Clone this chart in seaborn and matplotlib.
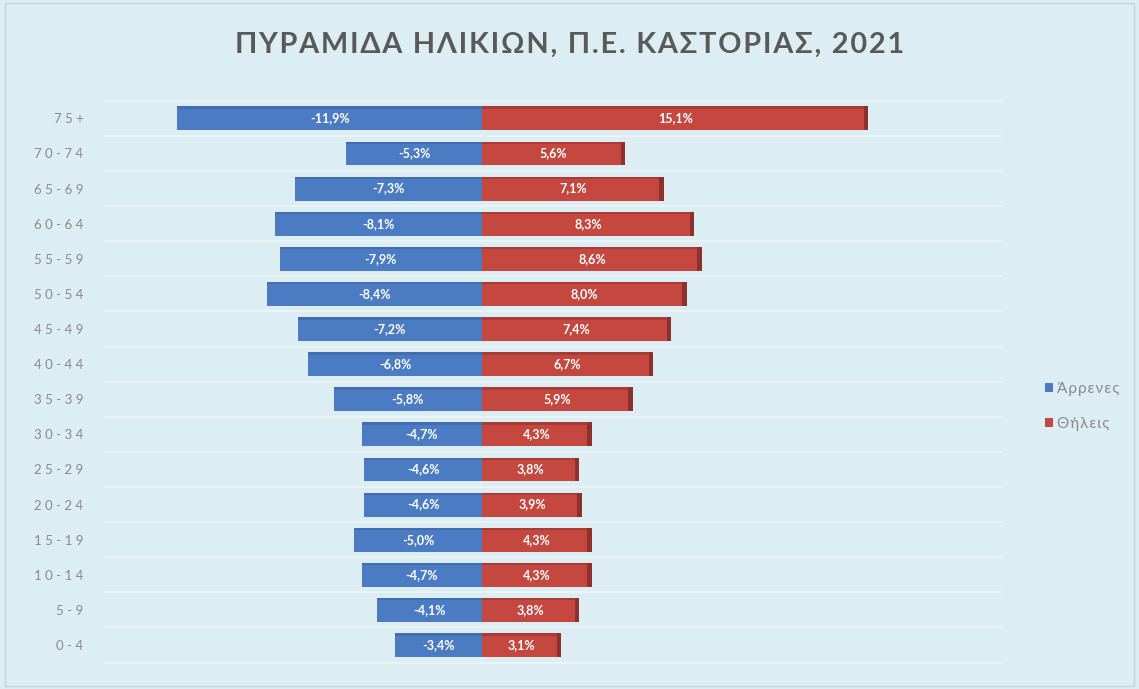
import matplotlib
matplotlib.use("Agg")
import matplotlib.pyplot as plt
import seaborn as sns
import pandas as pd

ages = ["75+", "70-74", "65-69", "60-64", "55-59", "50-54", "45-49", "40-44",
        "35-39", "30-34", "25-29", "20-24", "15-19", "10-14", "5-9", "0-4"]
males = [-11.9, -5.3, -7.3, -8.1, -7.9, -8.4, -7.2, -6.8,
         -5.8, -4.7, -4.6, -4.6, -5.0, -4.7, -4.1, -3.4]
females = [15.1, 5.6, 7.1, 8.3, 8.6, 8.0, 7.4, 6.7,
           5.9, 4.3, 3.8, 3.9, 4.3, 4.3, 3.8, 3.1]
series = ["Άρρενες", "Θήλεις"]
colors = ["#4a7bc3", "#c4483f"]
title = "ΠΥΡΑΜΙΔΑ ΗΛΙΚΙΩΝ, Π.Ε. ΚΑΣΤΟΡΙΑΣ, 2021"


def spaced(s, sep="\u200a"):
    return sep.join(s)


df = pd.DataFrame({
    "age": ages * 2,
    "value": males + females,
    "sex": [series[0]] * len(ages) + [series[1]] * len(ages),
})

sns.set_style("white")
plt.rcParams["font.family"] = ["Lato", "DejaVu Sans"]
bg = "#dcedf3"

fig = plt.figure(figsize=(11.39, 6.89), dpi=100, facecolor=bg)
ax = fig.add_axes([0.105, 0.0348, 0.775, 0.824])
ax.set_facecolor(bg)

sns.barplot(data=df, x="value", y="age", hue="sex", order=ages,
            hue_order=series, palette=colors, dodge=False, width=0.68,
            orient="h", ax=ax, saturation=1, edgecolor="none")

# darker edge for a slight 3D look
for cont, dark in zip(ax.containers, ["#3a62a0", "#8e302b"]):
    for p in cont.patches:
        x0, y0 = p.get_x(), p.get_y()
        w, h = p.get_width(), p.get_height()
        if w > 0:
            ax.add_patch(plt.Rectangle((x0 + w - 0.18, y0), 0.18, h, color=dark, lw=0))
        ax.add_patch(plt.Rectangle((x0, y0), w, 0.07, color=dark, lw=0, alpha=0.5))

for cont in ax.containers:
    labels = [f"{v:.1f}%".replace(".", ",") for v in cont.datavalues]
    ax.bar_label(cont, labels=labels, label_type="center", color="white",
                 fontsize=9, fontweight="bold")

for i in range(len(ages) + 1):
    ax.axhline(i - 0.5, xmin=-0.017, color="#eef6f9", lw=1.2, zorder=0, clip_on=False)

ax.set_xlim(-14.16, 20.33)
ax.set_ylim(len(ages) - 0.43, -0.6)
ax.set_xticks([])
ax.set_yticks(range(len(ages)))
ax.set_yticklabels([spaced(a, " ") for a in ages])
ax.set_xlabel("")
ax.set_ylabel("")
ax.tick_params(axis="y", length=0, pad=26, labelsize=9.5, labelcolor="#8a8a8a")
for s in ax.spines.values():
    s.set_visible(False)

handles, _ = ax.get_legend_handles_labels()
leg = fig.legend(handles, [spaced(s) for s in series], loc="center left",
                 bbox_to_anchor=(0.905, 0.41), frameon=False,
                 fontsize=11, labelcolor="#8a8a8a", handlelength=0.55,
                 handleheight=0.55, handletextpad=0.25, labelspacing=1.35)
ax.get_legend().remove()

fig.text(0.5, 0.935, spaced(title), ha="center", va="center", fontsize=20.8,
         color="#595959", fontweight="bold")

fig.patches.append(plt.Rectangle((0.004, 0.004), 0.992, 0.992, transform=fig.transFigure,
                                 fill=False, edgecolor="#c8d3d8", lw=1))

plt.savefig("out.png", dpi=100, facecolor=bg)
